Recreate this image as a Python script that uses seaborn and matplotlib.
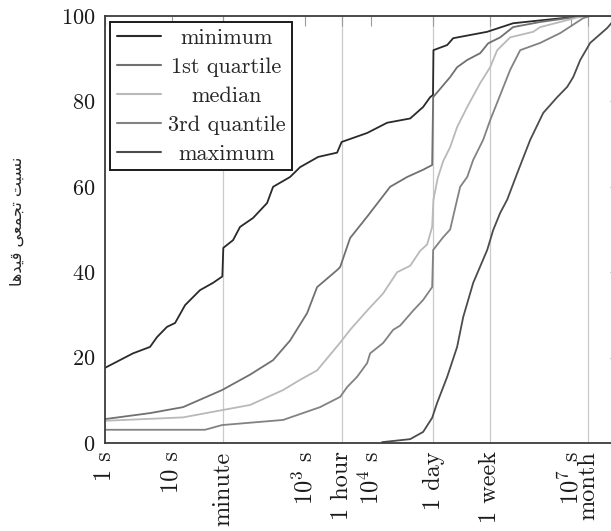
import matplotlib
matplotlib.use("Agg")
import matplotlib.pyplot as plt
from matplotlib.lines import Line2D
from matplotlib.ticker import NullLocator
import pandas as pd
import seaborn as sns

# ---------------- data ----------------
series_names = ["minimum", "1st quartile", "median", "3rd quantile", "maximum"]

min_t = [1, 2.64, 4.75, 6.05, 8.55, 11.3, 16, 26.8, 42, 58, 60, 84, 107, 168, 273, 336,
         605, 855, 1600, 3080, 3600, 8700, 17400, 38600, 60500, 77100, 85000, 86400,
         139000, 171000, 555000, 1.36e6, 2.73e6, 1.54e7, 5.5e7]
min_v = [17.6, 21, 22.5, 24.8, 27.2, 28.1, 32.3, 35.8, 37.5, 39, 45.7, 47.5, 50.6, 52.7, 56.2, 60,
         62.3, 64.6, 67, 68, 70.5, 72.6, 75, 76, 78.7, 81, 81.5, 92,
         93.2, 94.8, 96.3, 98.3, 98.8, 100, 100]

q1_t = [1, 4.75, 14.9, 57.5, 151, 336, 605, 1090, 1540, 3080, 3420, 4830, 8700, 19300, 34800,
        60500, 82600, 85500, 154000, 196000, 278000, 436000, 574000, 871000, 1.36e6, 3.48e6,
        1.54e7, 5.5e7]
q1_v = [5.6, 7, 8.4, 12.4, 16, 19.4, 24, 30.4, 36.5, 40.5, 41.2, 48, 53, 60, 62.3,
        64, 65.1, 81, 85.7, 88, 89.7, 91.3, 93.6, 95, 97.4, 98.6,
        100, 100]

med_t = [1, 14.9, 57.5, 151, 475, 855, 1540, 3420, 4830, 8700, 15100, 24600, 38600, 54500,
         69500, 82600, 86400, 100000, 121000, 154000, 196000, 278000, 436000, 615000, 785000,
         1.23e6, 2.73e6, 3.48e6, 1.54e7, 5.5e7]
med_v = [5.2, 6.0, 7.7, 8.9, 12.4, 14.8, 17, 23.5, 26.5, 31, 35, 40, 41.5, 45,
         46.5, 50.6, 57, 62, 66, 69.3, 74, 78.7, 84.3, 88, 92,
         95, 96.3, 97.4, 100, 100]

q3_t = [1, 31.9, 57.5, 475, 1710, 3420, 4360, 6150, 8700, 9660, 15100, 21400, 27300, 42800,
        60500, 82600, 85500, 121000, 154000, 196000, 218000, 278000, 342000, 483000, 615000,
        871000, 1.23e6, 1.74e6, 3.48e6, 6.95e6, 1.54e7, 1.96e7, 5.5e7]
q3_v = [3.1, 3.1, 4.2, 5.4, 8.4, 10.8, 13.1, 15.5, 18.7, 21, 23.4, 26.5, 27.5, 31,
        33.5, 36.5, 45.2, 48.2, 50, 57, 60, 62.3, 66.3, 71, 75.6,
        81.5, 87.4, 92, 93.7, 96, 99.5, 100, 100]

max_t = [14600, 38600, 60500, 82600, 98200, 139000, 196000, 242000, 342000, 555000, 684000,
         871000, 1.11e6, 1.57e6, 2.46e6, 3.86e6, 6.27e6, 8.85e6, 1.09e7, 1.39e7, 1.96e7,
         3.54e7, 4.6e7, 5.5e7]
max_v = [0.2, 0.9, 2.6, 5.9, 9.4, 15.5, 22.5, 29.5, 37.5, 45.2, 49.9,
         53.9, 57, 63.2, 71, 77.3, 81, 83.4, 85.7, 89.7, 93.7,
         97.2, 99.3, 100]

tick_values = [1, 10, 60, 1e3, 3600, 1e4, 86400, 604800, 1e7, 1.8e7]
tick_labels = ["1 s", "10 s", "minute", r"$10^3$ s", "1 hour", r"$10^4$ s",
               "1 day", "1 week", r"$10^7$ s", "month"]
grid_values = [60, 3600, 86400, 604800, 1.8e7]
y_ticks = [0, 20, 40, 60, 80, 100]
y_label = "\uFE8E\uFEEB\uFEAA\uFEF4\uFED7 \uFEF0\uFECC\uFEE4\uFEA0\uFE97 \uFE96\uFE92\uFEB4\uFEE7"

colors = ["#2a2a2a", "#707070", "#b9b9b9", "#828282", "#4c4c4c"]

# ---------------- build frame ----------------
all_t = [min_t, q1_t, med_t, q3_t, max_t]
all_v = [min_v, q1_v, med_v, q3_v, max_v]
frames = []
for name, t, v in zip(series_names, all_t, all_v):
    frames.append(pd.DataFrame({"t": t, "v": v, "series": name}))
df = pd.concat(frames, ignore_index=True)

sns.set_style("white")
plt.rcParams["font.family"] = ["cmr10", "DejaVu Sans"]
plt.rcParams["mathtext.fontset"] = "cm"
plt.rcParams["axes.unicode_minus"] = False
plt.rcParams["axes.formatter.use_mathtext"] = True

fig = plt.figure(figsize=(6.11, 5.31), dpi=100)
ax = fig.add_axes([105 / 611, 88 / 531, 515 / 611, 427 / 531])

for g in grid_values:
    ax.axvline(g, color="#cacaca", lw=0.9, zorder=0)

sns.lineplot(data=df, x="t", y="v", hue="series", hue_order=series_names,
             palette=colors, estimator=None, sort=False, lw=1.3, ax=ax, legend=False)

ax.set_xscale("log")
ax.set_xlim(1, 5.5e7)
ax.set_ylim(0, 100)
ax.set_xticks(tick_values)
ax.set_xticklabels(tick_labels, rotation=90, va="top", ha="center")
ax.xaxis.set_minor_locator(NullLocator())
ax.set_yticks(y_ticks)
ax.set_xlabel("")
ax.set_ylabel(y_label, fontsize=11.5, family=["DejaVu Sans"])
ax.yaxis.set_label_coords(-0.155, 0.52)

ax.tick_params(axis="both", which="major", direction="in", length=7, width=0.8,
               color="#9a9a9a", top=True, right=True, labelcolor="#1a1a1a")
ax.tick_params(axis="x", pad=6, labelsize=17.5)
ax.tick_params(axis="y", pad=7, labelsize=16)

for s in ax.spines.values():
    s.set_color("#3c3c3c")
    s.set_linewidth(1.3)

handles = [Line2D([], [], color=c, lw=1.5) for c in colors]
leg = ax.legend(handles, series_names, loc="upper left", bbox_to_anchor=(0.0097, 0.986),
                borderaxespad=0, fontsize=16, frameon=True, fancybox=False,
                edgecolor="#1a1a1a", framealpha=1, handlelength=2.0, handletextpad=0.3,
                borderpad=0.3, labelspacing=0.42)
leg.get_frame().set_linewidth(1.4)

# centre the legend labels in their column
fig.canvas.draw()
r = fig.canvas.get_renderer()
texts = leg.get_texts()
widths = [t.get_window_extent(r).width for t in texts]
wmax = max(widths)
for t, w in zip(texts, widths):
    t.set_position(((wmax - w) / 2, 0))

fig.savefig("out.png", dpi=100)
